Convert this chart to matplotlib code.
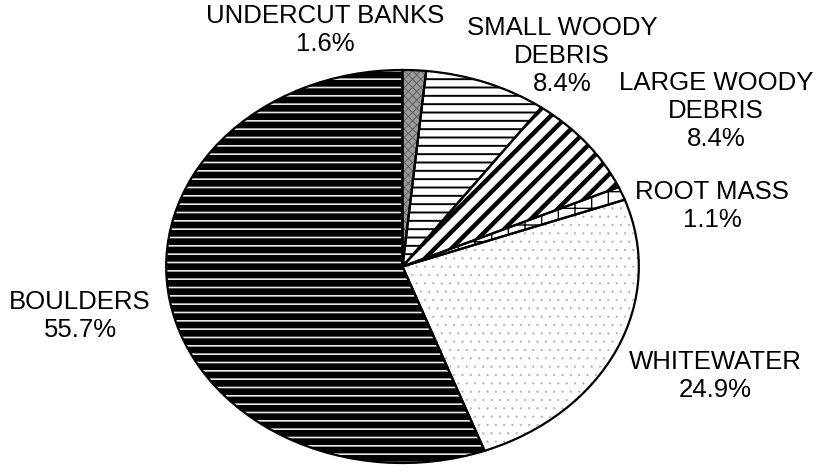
import matplotlib
matplotlib.use("Agg")
import matplotlib.pyplot as plt

plt.rcParams['font.family'] = ['Liberation Sans', 'DejaVu Sans']

categories = ['UNDERCUT BANKS', 'SMALL WOODY\nDEBRIS', 'LARGE WOODY\nDEBRIS',
              'ROOT MASS', 'WHITEWATER', 'BOULDERS']
percents = [1.6, 8.4, 8.4, 1.1, 24.9, 55.7]

# fill style per slice: face, hatch, hatch colour, hatch width
faces = ['#9a9a9a', 'white', 'white', 'white', 'white', 'black']
hatches = ['xxxx', '--', '//', '+', '..', '--']
hatch_cols = ['#5a5a5a', 'black', 'black', 'black', '#b4b4b4', '#e8e8e8']
hatch_lws = [0.6, 1.4, 3.2, 1.0, 0.4, 1.2]

# label centres in figure pixels (top-left origin)
label_pos = [(325, 30), (562, 56), (716, 111), (712, 206), (715, 376), (80, 316)]

W, H = 823, 477
fig = plt.figure(figsize=(W / 100, H / 100), dpi=100)
ax = fig.add_axes([165 / W, 12 / H, 475 / W, 395 / H])

wedges, _ = ax.pie(percents, startangle=90, counterclock=False)
for w, fc, h, hc, hl in zip(wedges, faces, hatches, hatch_cols, hatch_lws):
    w.set_facecolor(fc)
    w.set_hatch(h)
    w.set_edgecolor(hc)
    w.set_linewidth(0)
    if hasattr(w, 'set_hatch_linewidth'):
        w.set_hatch_linewidth(hl)
    else:
        w._hatch_linewidth = hl

# outlines on top
ax.pie(percents, startangle=90, counterclock=False,
       wedgeprops=dict(fill=False, edgecolor='black', linewidth=1.6))

ax.set_aspect('auto')
ax.set_xlim(-1.005, 1.005)
ax.set_ylim(-1.005, 1.005)
ax.axis('off')

for cat, pct, (px, py) in zip(categories, percents, label_pos):
    fig.text(px / W, 1 - py / H, f"{cat}\n{pct:.1f}%", ha='center', va='center',
             fontsize=18.5, color='black', linespacing=1.23)

fig.savefig('out.png', dpi=100)
